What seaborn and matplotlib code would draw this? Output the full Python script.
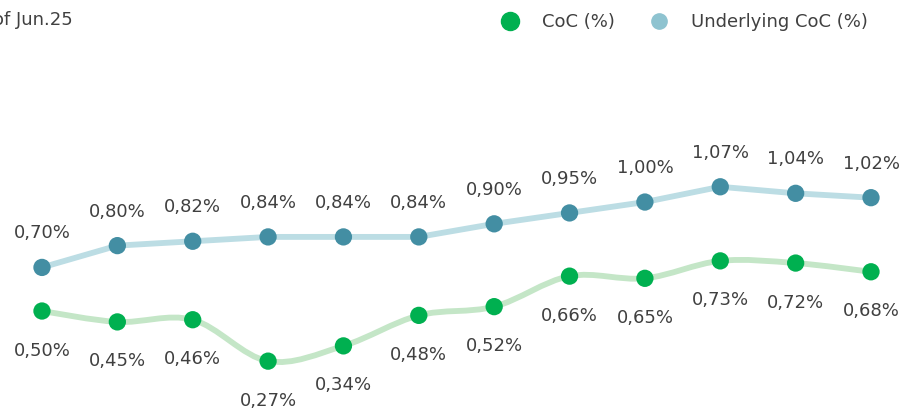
import matplotlib
matplotlib.use("Agg")
import matplotlib.pyplot as plt
from matplotlib.path import Path
from matplotlib.patches import PathPatch
from matplotlib.lines import Line2D
import numpy as np
import pandas as pd
import seaborn as sns

# Quarterly cost of credit series (12 consecutive quarters up to Jun.25)
quarters = list(range(12))
coc = [0.50, 0.45, 0.46, 0.27, 0.34, 0.48, 0.52, 0.66, 0.65, 0.73, 0.72, 0.68]
underlying_coc = [0.70, 0.80, 0.82, 0.84, 0.84, 0.84, 0.90, 0.95, 1.00, 1.07, 1.04, 1.02]
series_names = ["CoC (%)", "Underlying CoC (%)"]
subtitle = "of Jun.25"

GREEN = "#00b050"
GREEN_LINE = "#c4e6c7"
BLUE = "#438ea3"
BLUE_LINE = "#bcdde4"
BLUE_LEGEND = "#8ec3d0"
TEXT = "#404040"
FONT = "DejaVu Sans"
FS = 13

sns.set_theme(style="white")
plt.rcParams["font.family"] = [FONT]

df = pd.DataFrame({"quarter": quarters, "coc": coc, "underlying": underlying_coc})

fig = plt.figure(figsize=(9.12, 4.08), dpi=100)
ax = fig.add_axes([0, 0, 1, 1])
ax.set_xlim(-0.557, 11.544)
ax.set_ylim(0.055, 1.927)
ax.axis("off")


def smooth_path(x, y):
    """Catmull-Rom spline through the points, expressed as cubic Bezier segments."""
    pts = np.column_stack([x, y]).astype(float)
    ext = np.vstack([pts[0], pts, pts[-1]])
    verts = [tuple(pts[0])]
    codes = [Path.MOVETO]
    for i in range(1, len(ext) - 2):
        p0, p1, p2, p3 = ext[i - 1], ext[i], ext[i + 1], ext[i + 2]
        c1 = p1 + (p2 - p0) / 6.0
        c2 = p2 - (p3 - p1) / 6.0
        verts += [tuple(c1), tuple(c2), tuple(p2)]
        codes += [Path.CURVE4] * 3
    return Path(verts, codes)


# Underlying CoC: straight light-blue line with dark-blue markers
sns.lineplot(data=df, x="quarter", y="underlying", ax=ax, color=BLUE_LINE,
             linewidth=4.2, zorder=2, solid_capstyle="round")
sns.scatterplot(data=df, x="quarter", y="underlying", ax=ax, color=BLUE,
                s=155, edgecolor="none", zorder=3)

# CoC: smoothed light-green line with green markers
ax.add_patch(PathPatch(smooth_path(df["quarter"], df["coc"]), facecolor="none",
                       edgecolor=GREEN_LINE, linewidth=4.2, capstyle="round", zorder=2))
sns.scatterplot(data=df, x="quarter", y="coc", ax=ax, color=GREEN,
                s=155, edgecolor="none", zorder=3)


def pct(v):
    return f"{v:.2f}%".replace(".", ",")


for q, v in zip(quarters, underlying_coc):
    ax.annotate(pct(v), (q, v), xytext=(0, 24.5), textcoords="offset points",
                ha="center", va="center", fontsize=FS, color=TEXT)
for q, v in zip(quarters, coc):
    ax.annotate(pct(v), (q, v), xytext=(0, -28.5), textcoords="offset points",
                ha="center", va="center", fontsize=FS, color=TEXT)

ax.legend(
    handles=[
        Line2D([], [], marker="o", ls="none", color=GREEN, markersize=13),
        Line2D([], [], marker="o", ls="none", color=BLUE_LEGEND, markersize=11),
    ],
    labels=series_names,
    loc="center right", bbox_to_anchor=(868 / 912, 1 - 22 / 408),
    bbox_transform=fig.transFigure, ncol=2, frameon=False, fontsize=FS,
    labelcolor=TEXT, handlelength=1.0, handletextpad=1.3, columnspacing=1.9,
    borderpad=0, borderaxespad=0,
)

fig.text(73 / 912, 1 - 20 / 408, subtitle, ha="right", va="center",
         fontsize=FS, color=TEXT)

fig.savefig("out.png", dpi=100)
